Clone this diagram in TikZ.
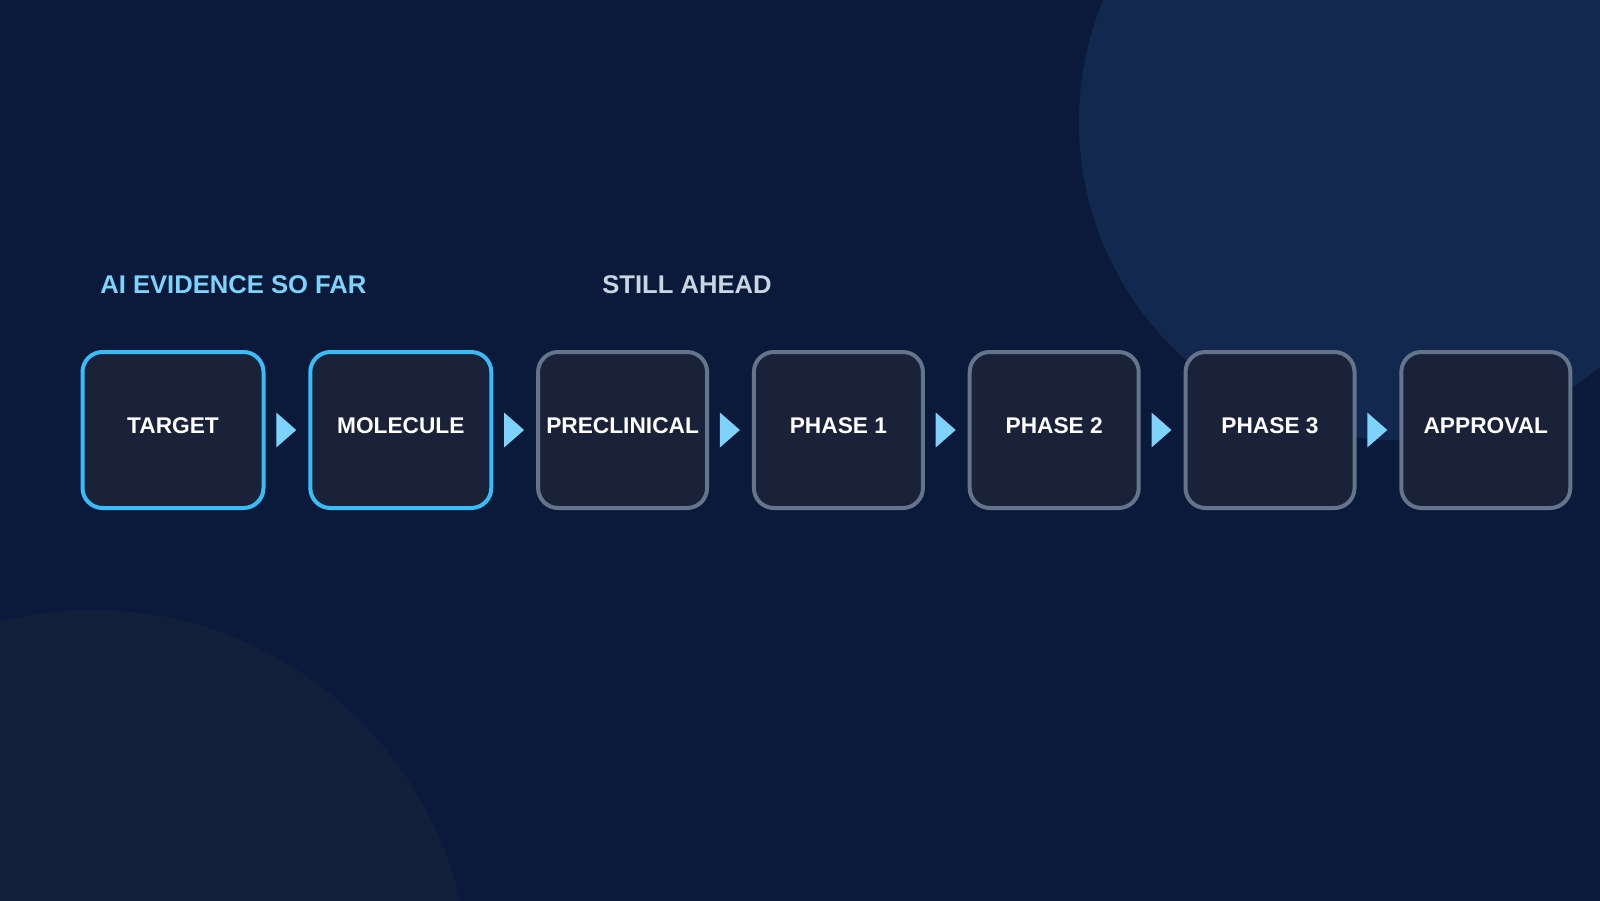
\documentclass[tikz,border=0pt]{standalone}
\usepackage{fontspec}
\setmainfont{Liberation Sans}
\usepackage{xcolor}
\usepackage{tikz}
\usetikzlibrary{shapes,arrows,positioning,calc,arrows.meta}

\definecolor{bgnavy}{HTML}{0B1A3A}
\definecolor{blobtop}{HTML}{13284F}
\definecolor{blobbot}{HTML}{111F3A}
\definecolor{boxfill}{HTML}{192238}
\definecolor{doneblue}{HTML}{38BDF8}
\definecolor{aheadgrey}{HTML}{64748B}
\definecolor{tipblue}{HTML}{7DD3FC}
\definecolor{headgrey}{HTML}{CBD5E1}

\tikzset{
    stage/.style={draw, line width=2pt, rounded corners=10pt, fill=boxfill,
        minimum height=78pt, text depth=4pt, text=white,
        font=\fontsize{11.35pt}{13pt}\selectfont\bfseries},
    donestage/.style={stage, draw=doneblue, minimum width=90.5pt},
    aheadstage/.style={stage, draw=aheadgrey, minimum width=84.5pt},
    flow/.style={draw=tipblue, line width=2pt, shorten <=6.5pt, shorten >=6pt,
        -{Triangle[length=10pt,width=17pt,fill=tipblue]}},
    heading/.style={anchor=west, inner sep=0pt,
        font=\fontsize{12.8pt}{15pt}\selectfont\bfseries}
}

\begin{document}
\begin{tikzpicture}[x=0.5pt, y=-0.5pt, node distance=21.4pt]
    \useasboundingbox (0,0) rectangle (1600,900);
    \fill[bgnavy] (-2,-2) rectangle (1602,902);
    \begin{scope}
        \clip (0,0) rectangle (1600,900);
        \fill[blobtop] (1397,122) circle (318);
        \fill[blobbot] (93,987) circle (377);
    \end{scope}

    \node[heading, text=tipblue] (evid) at (100,285) {AI EVIDENCE SO FAR};
    \node[heading, text=headgrey] (ahead) at (602,285) {STILL AHEAD};

    \node[donestage] (target) at (173,430) {TARGET};
    \node[donestage, right=of target] (molecule) {MOLECULE};
    \node[aheadstage, right=of molecule] (preclin) {PRECLINICAL};
    \node[aheadstage, right=of preclin] (phase1) {PHASE 1};
    \node[aheadstage, right=of phase1] (phase2) {PHASE 2};
    \node[aheadstage, right=of phase2] (phase3) {PHASE 3};
    \node[aheadstage, right=of phase3] (approval) {APPROVAL};

    \draw[flow] (target) -- (molecule);
    \draw[flow] (molecule) -- (preclin);
    \draw[flow] (preclin) -- (phase1);
    \draw[flow] (phase1) -- (phase2);
    \draw[flow] (phase2) -- (phase3);
    \draw[flow] (phase3) -- (approval);
\end{tikzpicture}
\end{document}
